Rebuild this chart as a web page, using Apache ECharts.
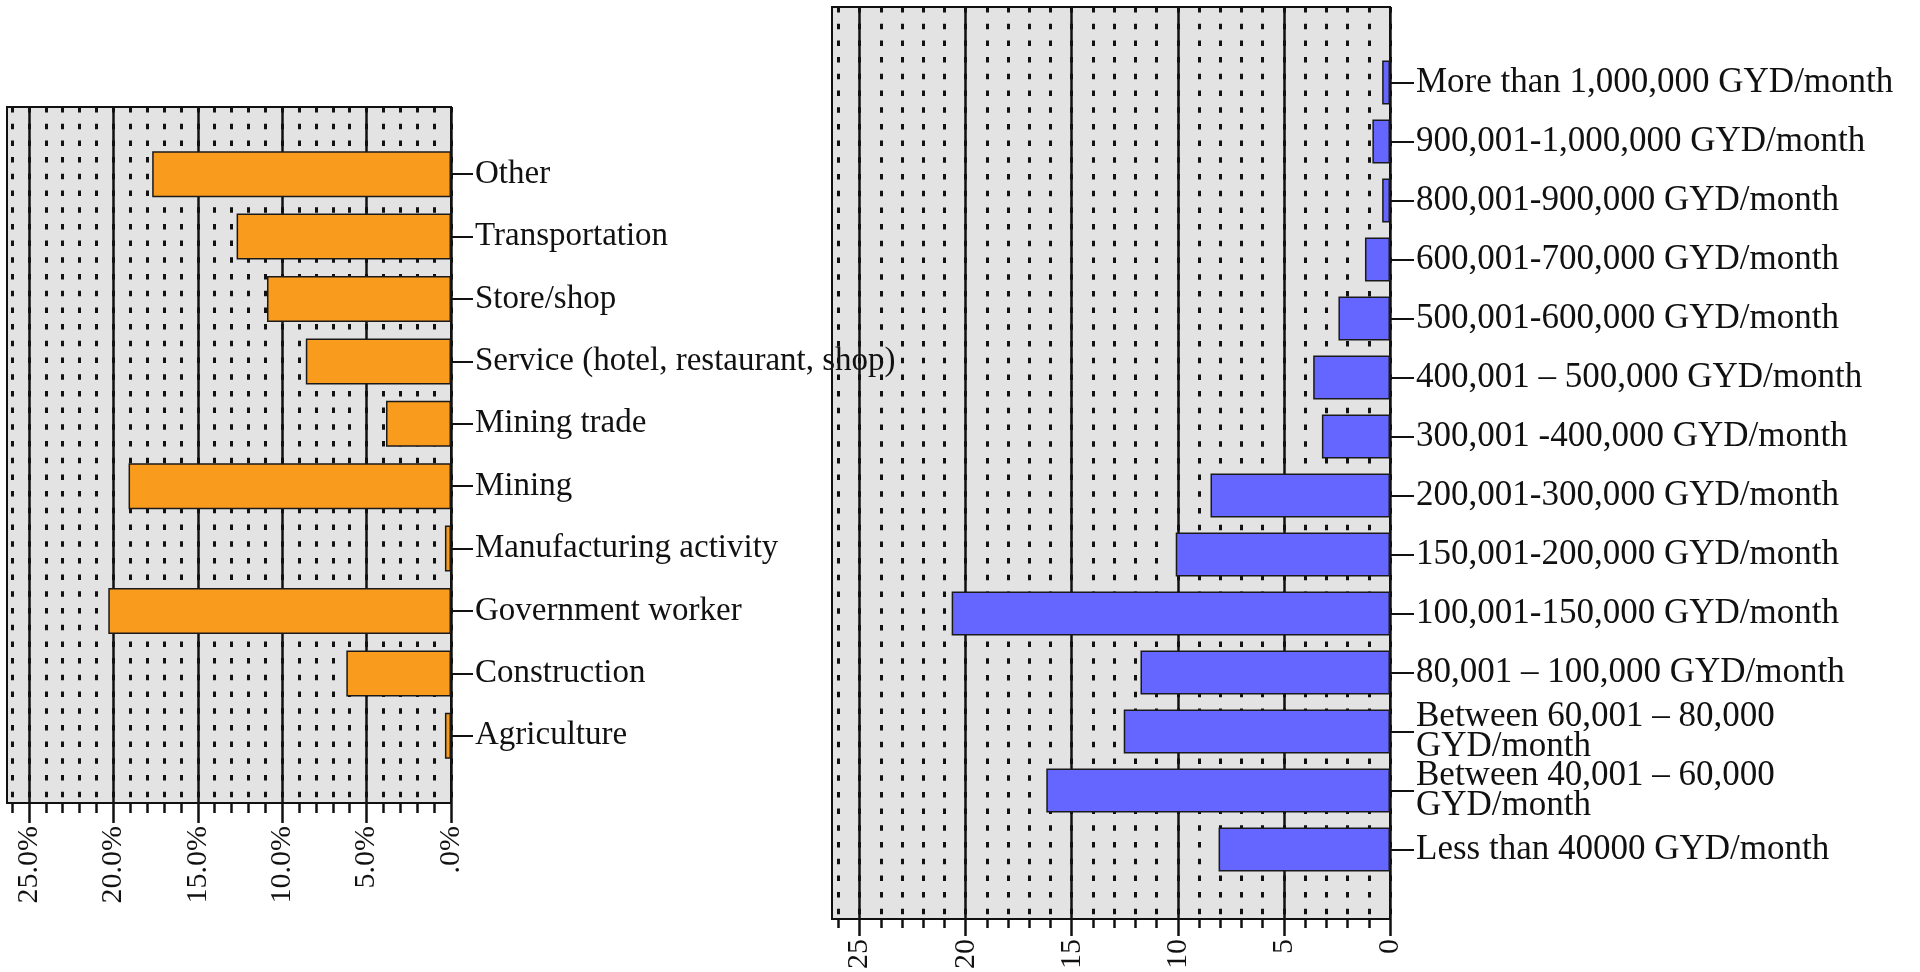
<!DOCTYPE html>
<html><head><meta charset="utf-8">
<script src="https://cdn.jsdelivr.net/npm/echarts@6/dist/echarts.min.js"></script>
<style>html,body{margin:0;padding:0;background:#fff}#c{width:1920px;height:972px}</style>
</head><body><div id="c"></div>
<script>
const occupations = ['Other','Transportation','Store/shop','Service (hotel, restaurant, shop)','Mining trade','Mining','Manufacturing activity','Government worker','Construction','Agriculture'];
const occupationPct = [17.7, 12.7, 10.9, 8.6, 3.85, 19.1, 0.36, 20.3, 6.2, 0.36];

const incomeBands = ['More than 1,000,000 GYD/month','900,001-1,000,000 GYD/month','800,001-900,000 GYD/month','600,001-700,000 GYD/month','500,001-600,000 GYD/month','400,001 \u2013 500,000 GYD/month','300,001 -400,000 GYD/month','200,001-300,000 GYD/month','150,001-200,000 GYD/month','100,001-150,000 GYD/month','80,001 \u2013 100,000 GYD/month','Between 60,001 \u2013 80,000\nGYD/month','Between 40,001 \u2013 60,000\nGYD/month','Less than 40000 GYD/month'];
const incomePct = [0.37, 0.83, 0.37, 1.18, 2.43, 3.62, 3.21, 8.46, 10.1, 20.66, 11.76, 12.55, 16.2, 8.08];

const majorTicks = [0, 5, 10, 15, 20, 25];
const minorTicks = [0,1,2,3,4,5,6,7,8,9,10,11,12,13,14,15,16,17,18,19,20,21,22,23,24,25,26];
const leftTickLabels = ['.0%', '5.0%', '10.0%', '15.0%', '20.0%', '25.0%'];
const rightTickLabels = ['0', '5', '10', '15', '20', '25'];
const AXIS_MAX = 26.3;

const FONT = '"Liberation Serif", "Times New Roman", serif';
const INK = '#111';

function majorAxis(grid, labels, tickLen) {
  return {
    type: 'value', gridIndex: grid, position: 'bottom', inverse: true, min: 0, max: AXIS_MAX, interval: 5,
    axisLine: { show: true, lineStyle: { color: INK, width: 2 } },
    axisTick: { show: true, length: tickLen, customValues: majorTicks, lineStyle: { color: INK, width: 2.5 } },
    axisLabel: { show: true, rotate: 90, margin: tickLen + 3, fontSize: 30, fontFamily: FONT, color: INK,
      customValues: majorTicks,
      formatter: v => { const i = majorTicks.indexOf(v); return i >= 0 ? labels[i] : ''; } },
    splitLine: { show: true, lineStyle: { color: INK, width: 2.5 } }
  };
}
function minorAxis(grid, tickLen) {
  return {
    type: 'value', gridIndex: grid, position: 'bottom', inverse: true, min: 0, max: AXIS_MAX, interval: 1,
    axisLine: { show: false }, axisLabel: { show: false },
    axisTick: { show: true, length: tickLen, customValues: minorTicks, lineStyle: { color: INK, width: 2.5 } },
    splitLine: { show: true, lineStyle: { color: INK, width: 3, type: [5.5, 11.2] } }
  };
}
function hiddenX(grid) {
  return { type: 'value', gridIndex: grid, inverse: true, min: 0, max: AXIS_MAX, show: false };
}
function catAxis(grid, data, tickLen, margin, fontSize, lineHeight) {
  return {
    type: 'category', gridIndex: grid, data: data, inverse: true, position: 'right',
    axisLine: { show: false },
    axisTick: { show: true, alignWithLabel: true, interval: 0, length: tickLen, lineStyle: { color: INK, width: 2 } },
    axisLabel: { interval: 0, margin: margin, fontSize: fontSize, lineHeight: lineHeight, fontFamily: FONT, color: INK },
    splitLine: { show: false }
  };
}
const boxStyle = { show: true, backgroundColor: '#E3E3E3', borderColor: INK, borderWidth: 2 };

const option = {
  animation: false,
  backgroundColor: '#fff',
  grid: [
    Object.assign({ left: 7, top: 107, width: 444, height: 696 }, boxStyle),
    { left: 7, top: 143, width: 444, height: 624 },
    Object.assign({ left: 832, top: 7, width: 558, height: 917 }, boxStyle),
    { left: 832, top: 53, width: 558, height: 826 }
  ],
  xAxis: [
    majorAxis(0, leftTickLabels, 20),
    minorAxis(0, 10),
    hiddenX(1),
    majorAxis(2, rightTickLabels, 17),
    minorAxis(2, 9),
    hiddenX(3)
  ],
  yAxis: [
    { type: 'value', gridIndex: 0, show: false },
    catAxis(1, occupations, 22, 24, 33, 36),
    { type: 'value', gridIndex: 2, show: false },
    catAxis(3, incomeBands, 24, 26, 35, 30)
  ],
  series: [
    { type: 'bar', xAxisIndex: 2, yAxisIndex: 1, data: occupationPct, barWidth: 46, silent: true,
      itemStyle: { color: '#F99B1C', borderColor: '#1a1a1a', borderWidth: 1.5 } },
    { type: 'bar', xAxisIndex: 5, yAxisIndex: 3, data: incomePct, barWidth: 44, silent: true,
      itemStyle: { color: '#6565FF', borderColor: '#1a1a1a', borderWidth: 1.5 } }
  ]
};
const chart = echarts.init(document.getElementById('c'));
chart.setOption(option);
</script>
</body></html>
